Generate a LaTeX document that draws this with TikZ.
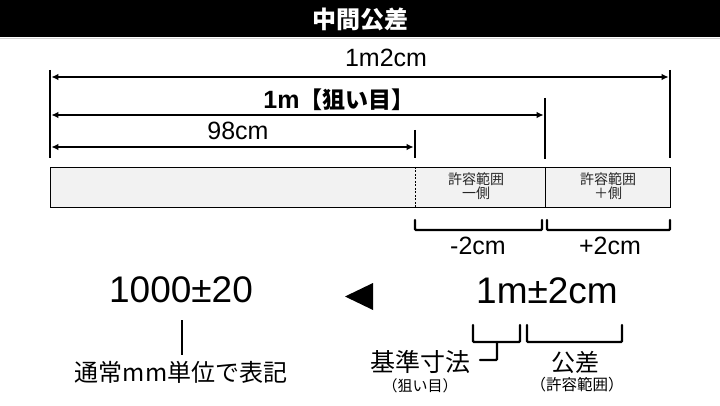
\documentclass[tikz,border=0pt]{standalone}
\usepackage{fontspec}
\setmainfont{Noto Sans CJK JP}
\newfontfamily\jp{Noto Sans CJK JP}
\newfontfamily\arial{Liberation Sans}
\usetikzlibrary{arrows.meta}
\tikzset{
  dimarrow/.style={line width=1.8pt,{Latex[length=7pt,width=6.5pt]}-{Latex[length=7pt,width=6.5pt]}},
  tick/.style={line width=2.6pt},
  brk/.style={line width=2.4pt,rounded corners=1pt,line cap=round},
  lbl/.style={inner sep=0pt},
  fs/.style={font=\jp\fontsize{#1}{#1}\selectfont},
  fa/.style={font=\arial\fontsize{#1}{#1}\selectfont},
}
\begin{document}
\begin{tikzpicture}[x=1pt,y=-1pt]
\useasboundingbox (0,0) rectangle (720,406);
% header
\fill[black] (0,0) rectangle (720,37);
\draw[gray!35,line width=0.8pt] (0,38) -- (720,38);
\node[lbl,text=white,font=\jp\bfseries\fontsize{24}{24}\selectfont] (title) at (360,19) {中間公差};
% ticks
\coordinate (Lt) at (50,70);  \coordinate (Lb) at (50,158);
\coordinate (Rt) at (670,70); \coordinate (Rb) at (670,158);
\coordinate (Mt) at (545,98); \coordinate (Mb) at (545,159);
\coordinate (Nt) at (415,130);\coordinate (Nb) at (415,158);
\draw[tick] (Lt) -- (Lb);
\draw[tick] (Rt) -- (Rb);
\draw[tick] (Mt) -- (Mb);
\draw[tick] (Nt) -- (Nb);
% arrows
\coordinate (a1l) at (51.3,77);  \coordinate (a1r) at (668.7,77);
\coordinate (a2l) at (51.3,115); \coordinate (a2r) at (543.7,115);
\coordinate (a3l) at (51.3,147); \coordinate (a3r) at (413.7,147);
\draw[dimarrow] (a1l) -- (a1r);
\draw[dimarrow] (a2l) -- (a2r);
\draw[dimarrow] (a3l) -- (a3r);
\node[lbl,fa=25] (t1) at (386,58) {1m2cm};
\node[lbl,font=\jp\bfseries\fontsize{23}{23}\selectfont] (t2) at (339,100) {{\arial\fontsize{25}{25}\selectfont 1m}【狙い目】};
\node[lbl,fa=25] (t3) at (238,131) {98cm};
% bar
\node[draw=black,line width=1pt,fill=gray!10,minimum width=620pt,minimum height=40pt,inner sep=0pt,anchor=north west] (bar) at (50,167) {};
\draw[dashed,line width=0.5pt,dash pattern=on 2pt off 1.5pt] (415,167) -- (415,207);
\draw[line width=0.6pt] (545,167) -- (545,207);
\node[lbl,fs=14,align=center,text=black!85] (s1) at (476,186) {許容範囲\\[0pt]一側};
\node[lbl,fs=14,align=center,text=black!85] (s2) at (608,186) {許容範囲\\[0pt]＋側};
% brackets under bar
\draw[brk] (415,220) -- (415,230) -- (542,230) -- (542,220);
\draw[brk] (547,220) -- (547,230) -- (670,230) -- (670,220);
\node[lbl,fa=25] (m2) at (478,246) {-2cm};
\node[lbl,fa=25] (p2) at (610,246) {+2cm};
% bottom left
\node[lbl,fa=37] (big1) at (181,290) {1000±20};
\node[lbl,fs=24] (note) at (181,372) {通常mm単位で表記};
\coordinate (v1) at (182,320); \coordinate (v2) at (182,355);
\draw[line width=2.4pt] (v1) -- (v2);
% triangle
\fill[black] (345,296.5) -- (373,283) -- (373,310) -- cycle;
% bottom right
\node[lbl,fa=37] (big2) at (547,291) {1m±2cm};
\draw[brk] (473,325) -- (473,342) -- (520,342) -- (520,325);
\draw[brk] (527,325) -- (527,342) -- (622,342) -- (622,325);
\coordinate (c1) at (497,342); \coordinate (c2) at (480,360);
\draw[brk] (c1) |- (c2);
\node[lbl,fs=25] (kijun) at (420,362) {基準寸法};
\node[lbl,fs=15] (nerai) at (420,386) {（狙い目）};
\node[lbl,fs=24] (kosa) at (575,362) {公差};
\node[lbl,fs=15.5] (kyoyo) at (577,385) {（許容範囲）};
\end{tikzpicture}
\end{document}
